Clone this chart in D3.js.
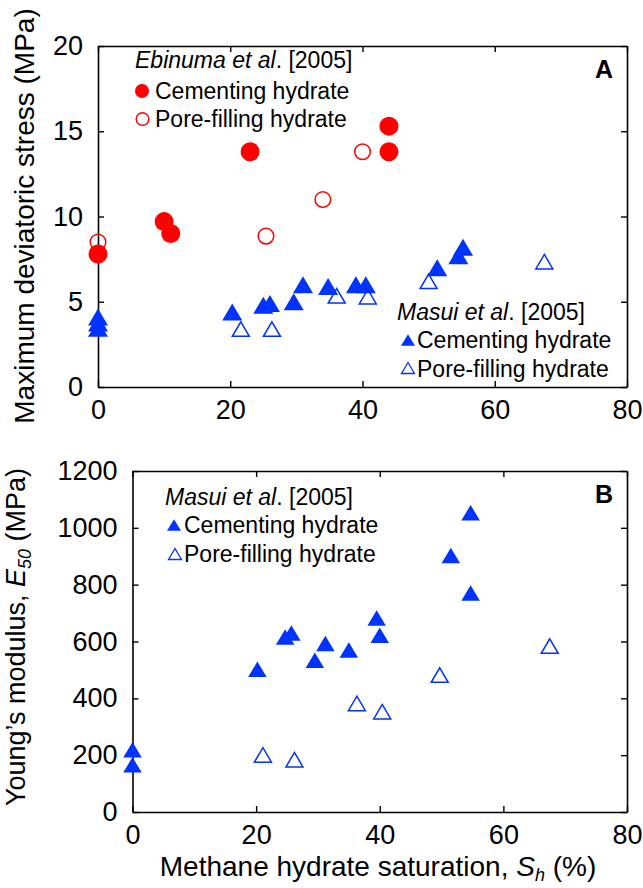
<!DOCTYPE html>
<html>
<head>
<meta charset="utf-8">
<script src="https://cdn.jsdelivr.net/npm/d3@7"></script>
<style>
  html, body { margin: 0; padding: 0; background: #fff; }
  svg { display: block; font-family: "Liberation Sans", Arial, Helvetica, sans-serif; }
</style>
</head>
<body>
<svg id="chart" width="643" height="888"></svg>
<script>
// ---------------- DATA ----------------
// Panel A: maximum deviatoric stress (MPa) vs hydrate saturation (%)
const ebinumaCemSh = [0, 10, 11, 23, 44, 44];
const ebinumaCemQ  = [7.8, 9.7, 9.0, 13.8, 15.3, 13.8];
const ebinumaPoreSh = [0, 25.4, 34, 40];
const ebinumaPoreQ  = [8.5, 8.85, 11.0, 13.8];
const masuiCemShA = [0, 0, 0, 20.3, 25, 26, 29.6, 31, 34.8, 39, 40.5, 51.3, 54.5, 55.2];
const masuiCemQ   = [4.1, 3.75, 3.45, 4.4, 4.8, 4.9, 5.0, 6.0, 5.9, 6.0, 6.0, 7.0, 7.7, 8.2];
const masuiPoreShA = [21.6, 26.3, 36.1, 40.8, 50, 67.5];
const masuiPoreQ   = [3.4, 3.4, 5.35, 5.3, 6.2, 7.35];
// Panel B: Young's modulus E50 (MPa) vs hydrate saturation (%)
const masuiCemShB = [0, 0, 20.2, 24.7, 25.7, 29.5, 31.2, 35, 39.5, 40, 51.5, 54.7, 54.7];
const masuiCemE   = [219, 166, 502, 616, 630, 534, 593, 570, 683, 622, 903, 1053, 771];
const masuiPoreShB = [21.1, 26.2, 36.3, 40.4, 49.7, 67.5];
const masuiPoreE   = [201, 184, 382, 353, 482, 584];
// Ticks
const xTicks = [0, 20, 40, 60, 80];
const yTicksA = [0, 5, 10, 15, 20];
const yTicksB = [0, 200, 400, 600, 800, 1000, 1200];

// ---------------- STYLE ----------------
const RED = "#ff0000";
const BLUE = "#0033ff";
const tickFont = 27;
const legFont = 23;
const titleFont = 28;

const svg = d3.select("#chart");

function tri(w, h) {
  return `M0,${-h/2}L${w/2},${h/2}L${-w/2},${h/2}Z`;
}

function drawFrame(g, x, y, yTicks) {
  const x0 = x.range()[0], x1 = x.range()[1];
  const y0 = y.range()[0], y1 = y.range()[1];
  const T = 6;
  const fmt = d => String(d);
  const gb = g.append("g").attr("transform", `translate(0,${y0})`)
    .call(d3.axisBottom(x).tickValues(xTicks).tickFormat(fmt).tickSizeInner(-T).tickSizeOuter(0).tickPadding(13));
  const gl = g.append("g").attr("transform", `translate(${x0},0)`)
    .call(d3.axisLeft(y).tickValues(yTicks).tickFormat(fmt).tickSizeInner(-T).tickSizeOuter(0).tickPadding(15));
  const gt = g.append("g").attr("transform", `translate(0,${y1})`)
    .call(d3.axisTop(x).tickValues(xTicks).tickSizeInner(-T).tickSizeOuter(0).tickFormat(""));
  const gr = g.append("g").attr("transform", `translate(${x1},0)`)
    .call(d3.axisRight(y).tickValues(yTicks).tickSizeInner(-T).tickSizeOuter(0).tickFormat(""));
  [gb, gl, gt, gr].forEach(a => {
    a.selectAll("path.domain").attr("stroke", "#000").attr("stroke-width", 1.6);
    a.selectAll(".tick line").attr("stroke", "#000").attr("stroke-width", 1.4);
    a.selectAll(".tick text").attr("font-size", tickFont).attr("fill", "#000")
      .attr("font-family", '"Liberation Sans", Arial, sans-serif');
  });
}

// ---------------- PANEL A ----------------
const xA = d3.scaleLinear().domain([0, 80]).range([98, 627]);
const yA = d3.scaleLinear().domain([0, 20]).range([387, 46]);
const gA = svg.append("g");
drawFrame(gA, xA, yA, yTicksA);

gA.append("g").selectAll("circle").data(d3.range(ebinumaPoreSh.length)).join("circle")
  .attr("cx", i => xA(ebinumaPoreSh[i])).attr("cy", i => yA(ebinumaPoreQ[i]))
  .attr("r", 7.8).attr("fill", "none").attr("stroke", RED).attr("stroke-width", 1.5);
gA.append("g").selectAll("circle").data(d3.range(ebinumaCemSh.length)).join("circle")
  .attr("cx", i => xA(ebinumaCemSh[i])).attr("cy", i => yA(ebinumaCemQ[i]))
  .attr("r", 9.5).attr("fill", RED);
gA.append("g").selectAll("path").data(d3.range(masuiCemShA.length)).join("path")
  .attr("d", tri(20, 17))
  .attr("transform", i => `translate(${xA(masuiCemShA[i])},${yA(masuiCemQ[i])})`)
  .attr("fill", BLUE);
gA.append("g").selectAll("path").data(d3.range(masuiPoreShA.length)).join("path")
  .attr("d", tri(17, 14.5))
  .attr("transform", i => `translate(${xA(masuiPoreShA[i])},${yA(masuiPoreQ[i])})`)
  .attr("fill", "none").attr("stroke", BLUE).attr("stroke-width", 1.5);

gA.append("text").attr("x", 613).attr("y", 78).attr("text-anchor", "end")
  .attr("font-size", 25).attr("font-weight", "bold").text("A");

function legendTitle(g, x, y, italicPart) {
  const t = g.append("text").attr("x", x).attr("y", y).attr("font-size", legFont);
  t.append("tspan").attr("font-style", "italic").text(italicPart);
  t.append("tspan").text(". [2005]");
}
legendTitle(gA, 135, 68, "Ebinuma et al");
gA.append("circle").attr("cx", 142).attr("cy", 91).attr("r", 7).attr("fill", RED);
gA.append("text").attr("x", 155).attr("y", 99).attr("font-size", legFont).text("Cementing hydrate");
gA.append("circle").attr("cx", 142.5).attr("cy", 119).attr("r", 6.3).attr("fill", "none")
  .attr("stroke", RED).attr("stroke-width", 1.4);
gA.append("text").attr("x", 155).attr("y", 127).attr("font-size", legFont).text("Pore-filling hydrate");

legendTitle(gA, 397, 320, "Masui et al");
gA.append("path").attr("d", tri(14, 11.5)).attr("transform", "translate(408,340)").attr("fill", BLUE);
gA.append("text").attr("x", 417).attr("y", 348).attr("font-size", legFont).text("Cementing hydrate");
gA.append("path").attr("d", tri(13, 11)).attr("transform", "translate(408,368)")
  .attr("fill", "none").attr("stroke", BLUE).attr("stroke-width", 1.3);
gA.append("text").attr("x", 417).attr("y", 377).attr("font-size", legFont).text("Pore-filling hydrate");

gA.append("text").attr("transform", "translate(34,216) rotate(-90)")
  .attr("text-anchor", "middle").attr("font-size", titleFont)
  .text("Maximum deviatoric stress (MPa)");

// ---------------- PANEL B ----------------
const xB = d3.scaleLinear().domain([0, 80]).range([132.5, 627]);
const yB = d3.scaleLinear().domain([0, 1200]).range([812, 471]);
const gB = svg.append("g");
drawFrame(gB, xB, yB, yTicksB);

gB.append("g").selectAll("path").data(d3.range(masuiCemShB.length)).join("path")
  .attr("d", tri(18.5, 15.5))
  .attr("transform", i => `translate(${xB(masuiCemShB[i])},${yB(masuiCemE[i])})`)
  .attr("fill", BLUE);
gB.append("g").selectAll("path").data(d3.range(masuiPoreShB.length)).join("path")
  .attr("d", tri(17, 14.5))
  .attr("transform", i => `translate(${xB(masuiPoreShB[i])},${yB(masuiPoreE[i])})`)
  .attr("fill", "none").attr("stroke", BLUE).attr("stroke-width", 1.5);

gB.append("text").attr("x", 613).attr("y", 503).attr("text-anchor", "end")
  .attr("font-size", 25).attr("font-weight", "bold").text("B");

legendTitle(gB, 165, 505, "Masui et al");
gB.append("path").attr("d", tri(14, 11.5)).attr("transform", "translate(174,525)").attr("fill", BLUE);
gB.append("text").attr("x", 184).attr("y", 533).attr("font-size", legFont).text("Cementing hydrate");
gB.append("path").attr("d", tri(13, 11)).attr("transform", "translate(175,554)")
  .attr("fill", "none").attr("stroke", BLUE).attr("stroke-width", 1.3);
gB.append("text").attr("x", 184).attr("y", 562).attr("font-size", legFont).text("Pore-filling hydrate");

const ytB = gB.append("text").attr("transform", "translate(25,637) rotate(-90)")
  .attr("text-anchor", "middle").attr("font-size", 27);
ytB.append("tspan").text("Young’s modulus, ");
ytB.append("tspan").attr("font-style", "italic").text("E");
ytB.append("tspan").attr("font-style", "italic").attr("font-size", 18).attr("dy", 6).text("50");
ytB.append("tspan").attr("dy", -6).text(" (MPa)");

const xt = svg.append("text").attr("x", 378).attr("y", 876)
  .attr("text-anchor", "middle").attr("font-size", titleFont);
xt.append("tspan").text("Methane hydrate saturation, ");
xt.append("tspan").attr("font-style", "italic").text("S");
xt.append("tspan").attr("font-style", "italic").attr("font-size", 18).attr("dy", 5).text("h");
xt.append("tspan").attr("dy", -5).text(" (%)");
</script>
</body>
</html>
